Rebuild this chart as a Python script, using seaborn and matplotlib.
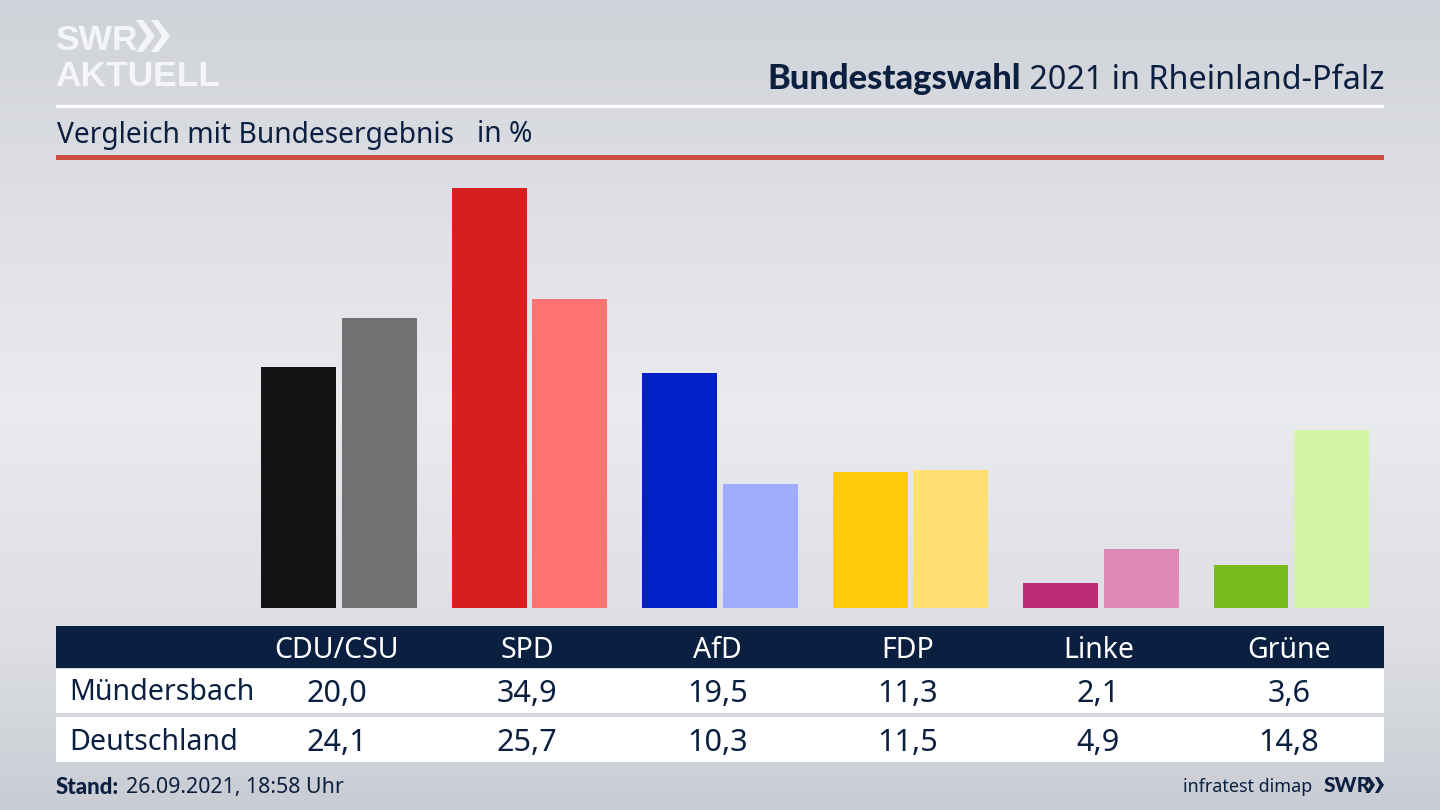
import numpy as np
import pandas as pd
import matplotlib
import matplotlib.pyplot as plt
from matplotlib.colors import LinearSegmentedColormap
from matplotlib.patches import Polygon, Rectangle
import seaborn as sns

matplotlib.use('Agg')

# Values
parties = ['CDU/CSU', 'SPD', 'AfD', 'FDP', 'Linke', 'Grüne']
muendersbach = [20.0, 34.9, 19.5, 11.3, 2.1, 3.6]
deutschland = [24.1, 25.7, 10.3, 11.5, 4.9, 14.8]
region_names = ['Mündersbach', 'Deutschland']

colors_local = ['#141414', '#d81f1f', '#0320c8', '#ffcc0a', '#bb2d77', '#79bd1c']
colors_federal = ['#72716f', '#ff7373', '#a0adff', '#ffe070', '#e089b8', '#d2f5a6']

navy = '#0b2040'
logo_white = '#f4f5f6'
W, H = 1440, 810
font = 'Noto Sans'
bold_font = 'Lato'
logo_font = 'Liberation Sans'

sns.set_theme(style='white')
plt.rcParams['font.family'] = [font, 'DejaVu Sans']


def px_axes(fig, left, top, right, bottom):
    return fig.add_axes([left / W, 1 - bottom / H, (right - left) / W, (bottom - top) / H])


def fmt(v):
    return f'{v:.1f}'.replace('.', ',')


fig = plt.figure(figsize=(14.4, 8.1), dpi=100)

# Background gradient and overlay in pixel coordinates
bg = fig.add_axes([0, 0, 1, 1], zorder=0)
cmap = LinearSegmentedColormap.from_list('bg', [(0, '#cfd2d8'), (0.2, '#dbdde2'), (0.5, '#e9ebef'),
                                                (0.8, '#dcdee3'), (1, '#c9ccd3')])
bg.imshow(np.linspace(0, 1, 256).reshape(-1, 1), aspect='auto', cmap=cmap, extent=(0, W, H, 0))
bg.set_xlim(0, W)
bg.set_ylim(H, 0)
bg.axis('off')

# Header rules
bg.add_patch(Rectangle((56, 104.5), 1328, 3, color='white', lw=0))
bg.add_patch(Rectangle((56, 155), 1328, 5, color='#c9503f', lw=0))

# Table backgrounds
bg.add_patch(Rectangle((56, 626), 1328, 42, color=navy, lw=0))
bg.add_patch(Rectangle((56, 669), 1328, 44, color='white', lw=0))
bg.add_patch(Rectangle((56, 717), 1328, 45, color='white', lw=0))

# Logo
bg.text(55, 50, 'SWR', color=logo_white, fontsize=25.5, fontweight='bold', va='baseline', ha='left',
        family=logo_font)
for x0 in (136, 151):
    bg.add_patch(Polygon([(x0, 20), (x0 + 7, 20), (x0 + 19, 36), (x0 + 7, 52), (x0, 52), (x0 + 11, 36)],
                         closed=True, color=logo_white, lw=0))
bg.text(55, 86, 'AKTUELL', color=logo_white, fontsize=25.5, fontweight='bold', va='baseline', ha='left',
        family=logo_font)

# Title, right part first so the bold part can sit against it
t2 = bg.text(1384, 89, ' 2021 in Rheinland-Pfalz', color=navy, fontsize=23.3, ha='right', va='baseline')
fig.canvas.draw()
x_left = t2.get_window_extent().x0
bg.text(x_left, 89, 'Bundestagswahl', color=navy, fontsize=24.8, fontweight='black', ha='right', va='baseline',
        family=bold_font)

bg.text(57, 135, 'Vergleich mit Bundesergebnis', color=navy, fontsize=20.3, ha='left', va='center')
bg.text(477, 135, 'in %', color=navy, fontsize=20.3, ha='left', va='center')

# Bars
df = pd.DataFrame({
    'party': parties * 2,
    'region': [region_names[0]] * 6 + [region_names[1]] * 6,
    'value': muendersbach + deutschland,
})
ax = px_axes(fig, 56, 160, 1384, 608)
ax.set_zorder(1)
ax.patch.set_alpha(0)
sns.barplot(data=df, x='party', y='value', hue='region', order=parties, hue_order=region_names,
            width=0.85, gap=0.074, legend=False, errorbar=None, saturation=1, ax=ax)
for bar, c in zip(ax.patches, colors_local + colors_federal):
    bar.set_facecolor(c)
    bar.set_edgecolor('none')
ax.set_xlim(-1.4856, 5.4856)
ax.set_ylim(0, 448 / 12.04)
ax.axis('off')

# Table text, x follows the bar axis categories
trans = ax.get_xaxis_transform()
dx = -2.5 * 0.72
for i, p in enumerate(parties):
    ax.annotate(p, (i, 0), xycoords=trans, xytext=(dx, (608 - 650) * 0.72), textcoords='offset points',
                color='white', fontsize=20.5, ha='center', va='center', annotation_clip=False)
    ax.annotate(fmt(muendersbach[i]), (i, 0), xycoords=trans, xytext=(dx, (608 - 694) * 0.72),
                textcoords='offset points', color=navy, fontsize=22, ha='center', va='center',
                annotation_clip=False)
    ax.annotate(fmt(deutschland[i]), (i, 0), xycoords=trans, xytext=(dx, (608 - 743) * 0.72),
                textcoords='offset points', color=navy, fontsize=22, ha='center', va='center',
                annotation_clip=False)

bg.text(69, 693, region_names[0], color=navy, fontsize=20.6, ha='left', va='center')
bg.text(69, 742, region_names[1], color=navy, fontsize=20.6, ha='left', va='center')

# Footer
s = bg.text(56, 787, 'Stand:', color=navy, fontsize=16, fontweight='black', ha='left', va='center', family=bold_font)
fig.canvas.draw()
bg.text(s.get_window_extent().x1 + 7, 787, '26.09.2021, 18:58 Uhr', color=navy, fontsize=15.4, ha='left', va='center')
bg.text(1312, 787, 'infratest dimap', color=navy, fontsize=12.9, ha='right', va='center')
bg.text(1324, 785, 'SWR', color=navy, fontsize=15, fontweight='black', ha='left', va='center', family=bold_font)
for x0 in (1366, 1375):
    bg.add_patch(Polygon([(x0, 777), (x0 + 3.5, 777), (x0 + 9, 785), (x0 + 3.5, 793), (x0, 793), (x0 + 4.5, 785)],
                         closed=True, color=navy, lw=0))

plt.savefig('out.png', dpi=100)
plt.close()
